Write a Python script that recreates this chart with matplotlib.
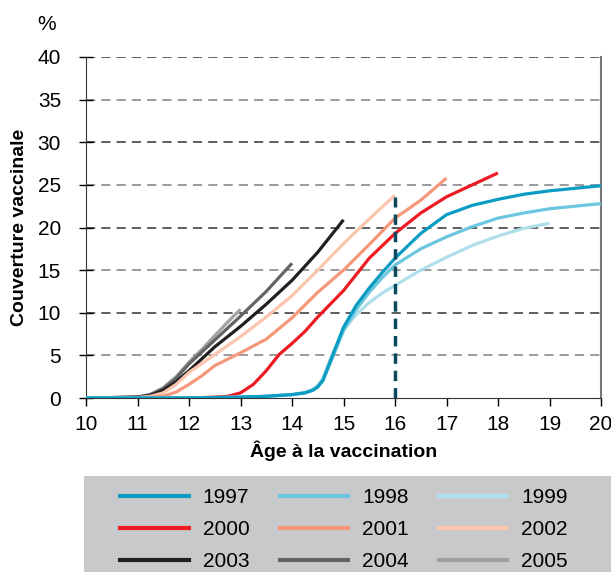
import matplotlib
matplotlib.use("Agg")
import matplotlib.pyplot as plt
from matplotlib.lines import Line2D
from matplotlib.patches import Rectangle

plt.rcParams['font.family'] = ['Liberation Sans', 'DejaVu Sans']

# age (years) and coverage (%) per birth cohort
age_1997 = [10, 11, 12, 13, 13.5, 14, 14.25, 14.4, 14.5, 14.6, 14.75, 15, 15.25, 15.5, 15.75, 16, 16.5, 17, 17.5, 18, 18.5, 19, 19.5, 20]
cov_1997 = [0, 0, 0, 0.1, 0.2, 0.4, 0.6, 0.9, 1.3, 2.1, 4.4, 8.3, 10.9, 12.9, 14.7, 16.4, 19.3, 21.5, 22.6, 23.3, 23.9, 24.3, 24.6, 24.9]
age_1998 = age_1997
cov_1998 = [0, 0, 0, 0.1, 0.2, 0.4, 0.6, 0.9, 1.3, 2.0, 4.2, 7.9, 10.4, 12.4, 14.1, 15.6, 17.5, 18.9, 20.1, 21.1, 21.7, 22.2, 22.5, 22.8]
age_1999 = age_1997[:-2]
cov_1999 = [0, 0, 0, 0.1, 0.2, 0.4, 0.7, 1.0, 1.5, 2.3, 4.7, 8.0, 9.8, 11.2, 12.3, 13.2, 15.0, 16.5, 17.9, 19.0, 19.9, 20.5]
age_2000 = [10, 12, 12.5, 12.75, 13, 13.25, 13.5, 13.75, 14, 14.25, 14.5, 15, 15.5, 16, 16.5, 17, 17.5, 18]
cov_2000 = [0, 0, 0.1, 0.2, 0.6, 1.6, 3.2, 5.1, 6.4, 7.8, 9.5, 12.6, 16.4, 19.3, 21.7, 23.6, 25.0, 26.4]
age_2001 = [10, 11, 11.5, 11.75, 12, 12.25, 12.5, 13, 13.5, 14, 14.5, 15, 15.5, 16, 16.5, 17]
cov_2001 = [0, 0, 0.2, 0.7, 1.6, 2.6, 3.8, 5.3, 6.9, 9.4, 12.4, 15.0, 18.0, 21.1, 23.2, 25.8]
age_2002 = [10, 11, 11.25, 11.5, 11.75, 12, 12.5, 13, 13.5, 14, 14.5, 15, 15.5, 16]
cov_2002 = [0, 0.05, 0.2, 0.6, 1.6, 3.0, 5.1, 7.2, 9.5, 12.0, 15.0, 18.1, 21.0, 23.8]
age_2003 = [10, 11, 11.25, 11.5, 11.75, 12, 12.5, 13, 13.5, 14, 14.5, 15]
cov_2003 = [0, 0.1, 0.3, 0.9, 1.9, 3.2, 6.0, 8.4, 11.0, 13.8, 17.1, 20.9]
age_2004 = [10, 11, 11.25, 11.5, 11.75, 12, 12.5, 13, 13.5, 14]
cov_2004 = [0, 0.1, 0.4, 1.1, 2.3, 4.0, 6.8, 9.6, 12.5, 15.8]
age_2005 = [10, 11, 11.25, 11.5, 11.75, 12, 12.25, 12.5, 12.75, 13]
cov_2005 = [0, 0.1, 0.4, 1.2, 2.5, 4.2, 5.7, 7.3, 8.9, 10.4]

years = ['1997', '1998', '1999', '2000', '2001', '2002', '2003', '2004', '2005']
ages = [age_1997, age_1998, age_1999, age_2000, age_2001, age_2002, age_2003, age_2004, age_2005]
covs = [cov_1997, cov_1998, cov_1999, cov_2000, cov_2001, cov_2002, cov_2003, cov_2004, cov_2005]
colors = ['#0a9cc2', '#6cc6df', '#b0dfec', '#ed1c24', '#f4977a', '#fcc6ae',
          '#231f20', '#636466', '#a0a1a3']

fig = plt.figure(figsize=(6.11, 5.72), dpi=100)
ax = fig.add_axes([86/611, 1-398/572, 515/611, 341/572])

for y in range(5, 41, 5):
    c = '#333333' if y % 10 == 0 else '#808080'
    ax.axhline(y, color=c, lw=1.1, ls=(0, (6, 4)), zorder=1)

# draw from newest to oldest so 1997 sits on top
for i in range(len(years) - 1, -1, -1):
    ax.plot(ages[i], covs[i], color=colors[i], lw=2.3, zorder=3,
            solid_capstyle='butt')

ax.plot([16, 16], [0, 23.6], color='#0b4a5c', lw=2.5, ls=(0, (3, 2)), zorder=4)

ax.set_xlim(10, 20)
ax.set_ylim(0, 40)
ax.set_xticks(range(10, 21))
ax.set_yticks(range(0, 41, 5))
ax.tick_params(axis='y', direction='inout', length=10, width=1, labelsize=15, pad=13)
ax.tick_params(axis='x', direction='out', length=6, width=1, labelsize=15, pad=6)
ax.spines['top'].set_visible(False)
ax.spines['right'].set_color('#777777')
ax.spines['right'].set_linewidth(1.5)
for s in ['left', 'bottom']:
    ax.spines[s].set_color('#333333')
ax.set_xlabel('Âge à la vaccination', fontsize=14, fontweight='bold', labelpad=5)
ax.set_ylabel('Couverture vaccinale', fontsize=14, fontweight='bold', labelpad=7)
fig.text(47/611, 1-25/572, '%', fontsize=15, ha='center', va='center')

# legend panel
fig.patches.append(Rectangle((84/611, 0), 527/611, 96/572, transform=fig.transFigure,
                             facecolor='#c8c9cb', edgecolor='none', zorder=0))
order = [0, 3, 6, 1, 4, 7, 2, 5, 8]
handles = [Line2D([], [], color=colors[i], lw=3) for i in order]
labels = [years[i] for i in order]
fig.legend(handles, labels, ncol=3, frameon=False, fontsize=15,
           loc='upper left', bbox_to_anchor=(112/611, 1-480/572),
           handlelength=3.3, handletextpad=0.65, columnspacing=1.45,
           labelspacing=0.62, borderaxespad=0)

fig.savefig('out.png', dpi=100)
